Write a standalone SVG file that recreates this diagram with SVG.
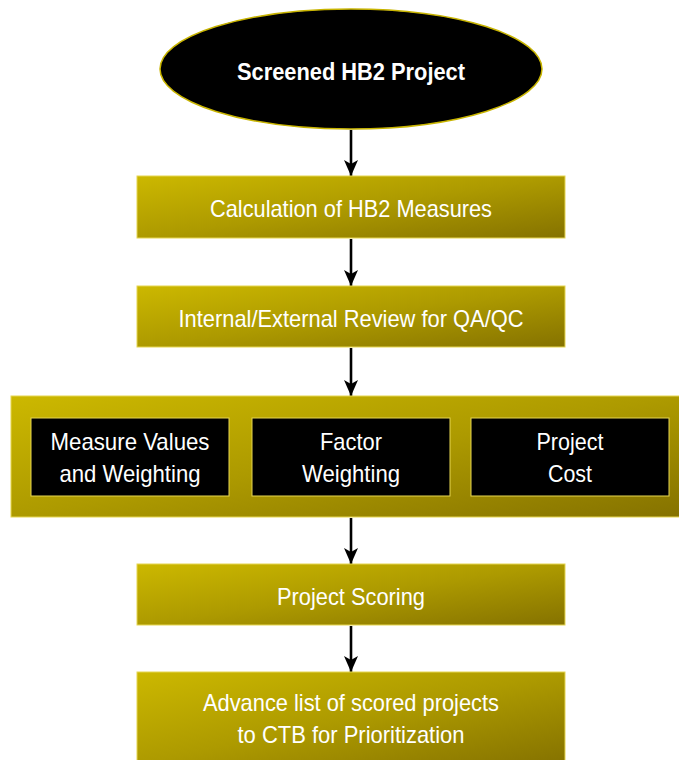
<svg xmlns="http://www.w3.org/2000/svg" width="679" height="760" viewBox="0 0 679 760">
<defs>
<linearGradient id="g" x1="0" y1="0" x2="1" y2="1">
<stop offset="0" stop-color="#ccb800"/>
<stop offset="0.5" stop-color="#ad9a00"/>
<stop offset="1" stop-color="#857200"/>
</linearGradient>
<marker id="ah" viewBox="0 0 16 16" refX="16" refY="8" markerWidth="16" markerHeight="16" orient="auto" markerUnits="userSpaceOnUse">
<path d="M0,1 L16,8 L0,15 L4,8 Z" fill="#000"/>
</marker>
<style>
.box{fill:url(#g);stroke:#e6d650;stroke-width:1}
.inner{fill:#000;stroke:#e6d650;stroke-width:1}
.t{font-family:"Liberation Sans Narrow","Arial Narrow","Liberation Sans",sans-serif;font-size:24px;fill:#fff;text-anchor:middle}
.b{font-weight:bold}
.c{stroke:#000;stroke-width:2.6;fill:none;marker-end:url(#ah)}
</style>
</defs>
<g id="connectors">
<line class="c" x1="351" y1="130" x2="351" y2="176"/>
<line class="c" x1="351" y1="239" x2="351" y2="286"/>
<line class="c" x1="351" y1="348" x2="351" y2="396"/>
<line class="c" x1="351" y1="518" x2="351" y2="564"/>
<line class="c" x1="351" y1="626" x2="351" y2="672"/>
</g>
<g id="start">
<ellipse cx="351" cy="69" rx="191" ry="60" fill="#000" stroke="#c8b400" stroke-width="1.5"/>
<text class="t b" x="351" y="80" textLength="228" lengthAdjust="spacingAndGlyphs">Screened HB2 Project</text>
</g>
<g id="calc">
<rect class="box" x="137" y="176" width="428" height="62"/>
<text class="t" x="351" y="217" textLength="282" lengthAdjust="spacingAndGlyphs">Calculation of HB2 Measures</text>
</g>
<g id="review">
<rect class="box" x="137" y="286" width="428" height="61"/>
<text class="t" x="351" y="327" textLength="345" lengthAdjust="spacingAndGlyphs">Internal/External Review for QA/QC</text>
</g>
<g id="group">
<rect class="box" x="11" y="396" width="670" height="121"/>
</g>
<g id="measure">
<rect class="inner" x="31" y="418" width="198" height="78"/>
<text class="t" x="130" y="450" textLength="159" lengthAdjust="spacingAndGlyphs">Measure Values</text>
<text class="t" x="130" y="482" textLength="141" lengthAdjust="spacingAndGlyphs">and Weighting</text>
</g>
<g id="factor">
<rect class="inner" x="252" y="418" width="198" height="78"/>
<text class="t" x="351" y="450" textLength="62" lengthAdjust="spacingAndGlyphs">Factor</text>
<text class="t" x="351" y="482" textLength="98" lengthAdjust="spacingAndGlyphs">Weighting</text>
</g>
<g id="cost">
<rect class="inner" x="471" y="418" width="198" height="78"/>
<text class="t" x="570" y="450" textLength="67" lengthAdjust="spacingAndGlyphs">Project</text>
<text class="t" x="570" y="482" textLength="44" lengthAdjust="spacingAndGlyphs">Cost</text>
</g>
<g id="scoring">
<rect class="box" x="137" y="564" width="428" height="61"/>
<text class="t" x="351" y="605" textLength="148" lengthAdjust="spacingAndGlyphs">Project Scoring</text>
</g>
<g id="advance">
<rect class="box" x="137" y="672" width="428" height="92"/>
<text class="t" x="351" y="711" textLength="296" lengthAdjust="spacingAndGlyphs">Advance list of scored projects</text>
<text class="t" x="351" y="743" textLength="227" lengthAdjust="spacingAndGlyphs">to CTB for Prioritization</text>
</g>
</svg>
